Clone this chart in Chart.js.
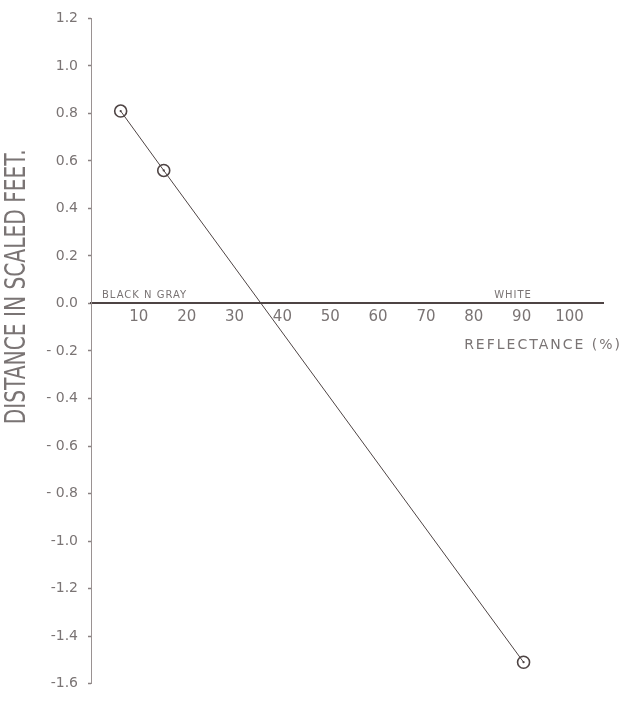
<!DOCTYPE html>
<html>
<head>
<meta charset="utf-8">
<script src="https://cdn.jsdelivr.net/npm/chart.js@4/dist/chart.umd.min.js"></script>
<style>
  html, body { margin: 0; padding: 0; background: #ffffff; }
  #wrap { width: 623px; height: 702px; position: relative; }
</style>
</head>
<body>
<div id="wrap"><canvas id="c"></canvas></div>
<script>
// Measured points: reflectance (%) against distance in scaled feet
const reflectance = [6.2, 15.2, 90.4];
const distance = [0.81, 0.56, -1.51];

// Axis ticks and their printed labels
const xTicks = [10, 20, 30, 40, 50, 60, 70, 80, 90, 100];
const yTicks = [1.2, 1.0, 0.8, 0.6, 0.4, 0.2, 0.0, -0.2, -0.4, -0.6, -0.8, -1.0, -1.2, -1.4, -1.6];
const yTickLabels = ['1.2', '1.0', '0.8', '0.6', '0.4', '0.2', '0.0', '- 0.2', '- 0.4', '- 0.6', '- 0.8', '-1.0', '-1.2', '-1.4', '-1.6'];

// Text written on the plot
const yTitle = 'DISTANCE IN SCALED FEET.';
const xTitle = 'REFLECTANCE (%)';
const zoneLabels = ['BLACK N GRAY', 'WHITE'];
const zoneLabelX = [2.3, 88.2];

const INK = '#4e4444';
const TEXT = '#7a7474';
const FONT = '"DejaVu Sans", "Liberation Sans", sans-serif';

const points = reflectance.map((x, i) => ({ x: x, y: distance[i] }));

const lettering = {
  id: 'lettering',
  afterDatasetsDraw(chart) {
    const ctx = chart.ctx;
    const xs = chart.scales.x;
    const ys = chart.scales.y;
    const y0 = ys.getPixelForValue(0);

    // small centre dots inside the plotted circles
    const meta = chart.getDatasetMeta(0);
    ctx.save();
    ctx.fillStyle = INK;
    meta.data.forEach(p => {
      ctx.beginPath();
      ctx.arc(p.x, p.y, 1.1, 0, Math.PI * 2);
      ctx.fill();
    });
    ctx.restore();

    // zone labels just above the zero line
    ctx.save();
    ctx.fillStyle = TEXT;
    ctx.font = '10px ' + FONT;
    ctx.textBaseline = 'alphabetic';
    ctx.textAlign = 'left';
    if ('letterSpacing' in ctx) ctx.letterSpacing = '1px';
    ctx.fillText(zoneLabels[0], xs.getPixelForValue(zoneLabelX[0]), y0 - 5);
    ctx.textAlign = 'center';
    ctx.fillText(zoneLabels[1], xs.getPixelForValue(zoneLabelX[1]), y0 - 5);
    ctx.restore();

    // horizontal axis title, below the tick numbers at the right
    ctx.save();
    ctx.fillStyle = TEXT;
    ctx.font = '14px ' + FONT;
    ctx.textAlign = 'right';
    ctx.textBaseline = 'middle';
    if ('letterSpacing' in ctx) ctx.letterSpacing = '2px';
    ctx.fillText(xTitle, xs.right + 19, y0 + 42);
    ctx.restore();

    // vertical axis title, condensed lettering
    ctx.save();
    ctx.fillStyle = TEXT;
    ctx.font = '28px ' + FONT;
    ctx.textAlign = 'center';
    ctx.textBaseline = 'middle';
    ctx.translate(18, (ys.getPixelForValue(0.64) + ys.getPixelForValue(-0.5)) / 2);
    ctx.rotate(-Math.PI / 2);
    const w = ctx.measureText(yTitle).width;
    ctx.scale(275 / w, 1);
    ctx.fillText(yTitle, 0, 0);
    ctx.restore();
  }
};

new Chart(document.getElementById('c'), {
  type: 'scatter',
  data: {
    datasets: [{
      data: points,
      showLine: true,
      borderColor: INK,
      borderWidth: 1,
      pointRadius: 6,
      pointHoverRadius: 6,
      pointBorderWidth: 1.6,
      pointBackgroundColor: 'rgba(255,255,255,0)',
      pointBorderColor: INK,
      tension: 0
    }]
  },
  options: {
    responsive: true,
    maintainAspectRatio: false,
    animation: false,
    events: [],
    layout: { padding: { left: 0, top: 17, right: 20, bottom: 10 } },
    plugins: {
      legend: { display: false },
      tooltip: { enabled: false },
      title: { display: false }
    },
    scales: {
      x: {
        type: 'linear',
        min: 0,
        max: 107,
        position: { y: 0 },
        afterBuildTicks: s => { s.ticks = xTicks.map(v => ({ value: v })); },
        grid: { display: false, drawTicks: false },
        border: { display: true, color: INK, width: 2 },
        ticks: {
          color: TEXT,
          padding: 5,
          font: { family: FONT, size: 15 },
          maxRotation: 0,
          autoSkip: false
        }
      },
      y: {
        type: 'linear',
        min: -1.6,
        max: 1.2,
        afterBuildTicks: s => { s.ticks = yTicks.map(v => ({ value: v })); },
        afterFit: s => { s.width = 91; },
        grid: { drawOnChartArea: false, tickLength: 3, color: '#8a8282', tickWidth: 1.5 },
        border: { display: true, color: '#9a9292', width: 1, dash: [3, 1] },
        ticks: {
          color: TEXT,
          padding: 10,
          font: { family: FONT, size: 14 },
          autoSkip: false,
          callback: (v, i) => yTickLabels[i]
        }
      }
    }
  },
  plugins: [lettering]
});
</script>
</body>
</html>
